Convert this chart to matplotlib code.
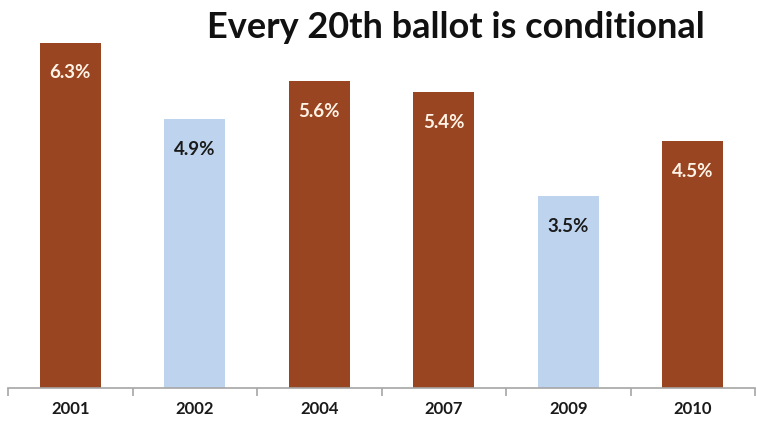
import matplotlib
matplotlib.use("Agg")
import matplotlib.pyplot as plt
import numpy as np

years = ["2001", "2002", "2004", "2007", "2009", "2010"]
values = [6.3, 4.9, 5.6, 5.4, 3.5, 4.5]
labels = ["6.3%", "4.9%", "5.6%", "5.4%", "3.5%", "4.5%"]
highlight = [True, False, True, True, False, True]

brown = "#9A4521"
blue = "#BED4EE"

plt.rcParams['font.family'] = ['Lato', 'DejaVu Sans']
fig = plt.figure(figsize=(7.57, 4.36), dpi=100)
ax = fig.add_axes([8/757, 1-388/436, 747/757, 388/436])

x = np.arange(len(years))
cols = [brown if h else blue for h in highlight]
ax.bar(x, values, width=0.49, color=cols, zorder=2)
ax.set_xlim(-0.5, len(years) - 0.5)
ax.set_ylim(0, 388/54.8)

for xi, v, lab, h in zip(x, values, labels, highlight):
    ax.annotate(lab, (xi, v), xytext=(0, -30), textcoords="offset pixels",
                ha="center", va="center", fontsize=13.5, fontweight="bold",
                color="#FFF3E6" if h else "#1a1a1a")

for s in ["top", "right", "left"]:
    ax.spines[s].set_visible(False)
ax.spines["bottom"].set_color("#A6A6A6")
ax.spines["bottom"].set_linewidth(1.2)
ax.set_yticks([])
ax.set_xticks(np.arange(-0.5, len(years)), minor=False)
ax.set_xticklabels([])
ax.tick_params(axis="x", length=6, color="#A6A6A6", width=1.2)
for xi, y in zip(x, years):
    ax.text(xi, -0.055, y, transform=ax.get_xaxis_transform(), ha="center",
            va="center", fontsize=12, fontweight="bold", color="#1a1a1a")

fig.text(456/757, 1-27/436, "Every 20th ballot is conditional", ha="center",
         va="center", fontsize=26, fontweight="bold", color="#111111")

fig.savefig("out.png", dpi=100)
